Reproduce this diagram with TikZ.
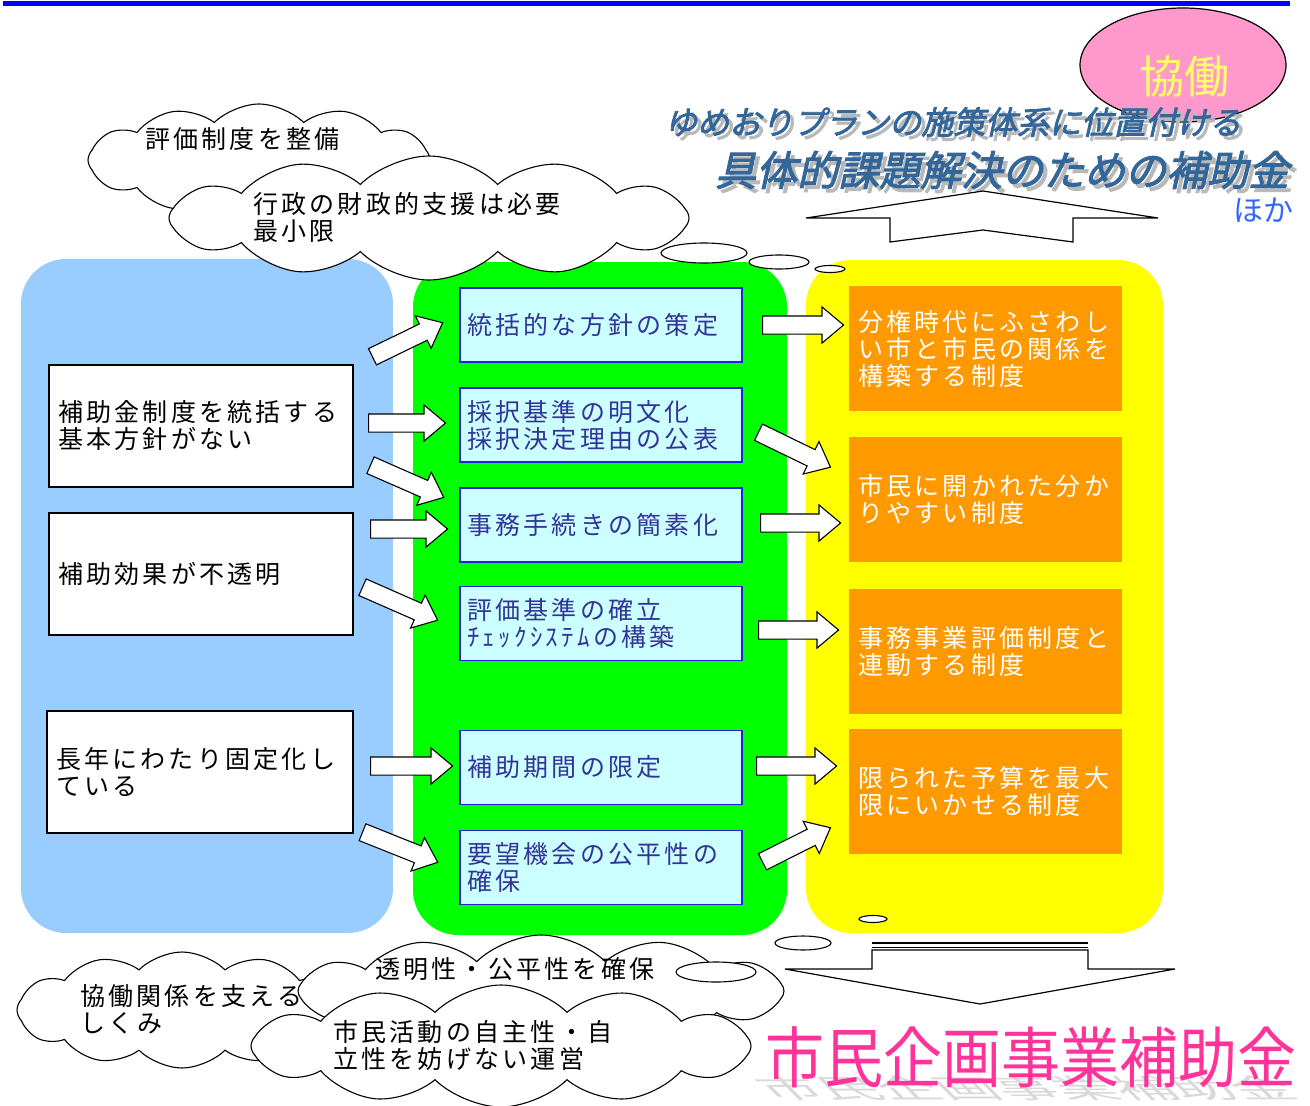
\documentclass[tikz,border=0pt]{standalone}
\usepackage{fontspec}
\setmainfont{Noto Sans CJK JP}
\newfontfamily\jp[LetterSpace=13]{Noto Sans CJK JP}
\newfontfamily\jpt[FakeSlant=0.22,FakeBold=2.5]{Noto Sans CJK JP}
\newfontfamily\jpp{Noto Sans CJK JP}
\usetikzlibrary{shapes.symbols,shapes.arrows,shapes.geometric}
\definecolor{pblue}{HTML}{99CCFF}
\definecolor{pgreen}{HTML}{00FF00}
\definecolor{pyellow}{HTML}{FFFF00}
\definecolor{porange}{HTML}{FF9900}
\definecolor{pcyan}{HTML}{CCFFFF}
\definecolor{cyanedge}{HTML}{2222DD}
\definecolor{cyantext}{HTML}{333399}
\definecolor{titleblue}{HTML}{336699}
\definecolor{hokablue}{HTML}{3366FF}
\definecolor{pinkfill}{HTML}{FF99CC}
\definecolor{kyoyellow}{HTML}{FFFF66}
\definecolor{bigpink}{HTML}{FF3399}
\definecolor{toprule}{HTML}{0000FF}
\tikzset{
  bodyfont/.style={font=\jp\fontsize{25}{27}\selectfont},
  panel/.style={rounded corners=45pt, inner sep=0pt, draw=none},
  leftbox/.style={draw=black, line width=1.2pt, fill=white, bodyfont, align=left,
    inner xsep=9pt, inner ysep=0pt, minimum height=122pt, text width=286pt},
  midbox/.style={draw=cyanedge, line width=1.5pt, fill=pcyan, text=cyantext, bodyfont, align=left,
    inner xsep=7pt, inner ysep=0pt, minimum height=74pt, text width=268pt},
  rightbox/.style={fill=porange, text=white, bodyfont, align=left,
    inner xsep=9pt, inner ysep=0pt, minimum height=125pt, text width=255pt},
  cloudshape/.style={cloud, cloud puffs=12, cloud puff arc=90, cloud ignores aspect,
    draw=black, fill=white, line width=1.1pt, inner sep=0pt},
  cloudtext/.style={bodyfont, anchor=west, inner sep=0pt, align=left},
  bubble/.style={ellipse, draw=black, fill=white, line width=1.1pt, inner sep=0pt},
  barrow/.style={single arrow, draw=black, fill=white, line width=1.1pt, inner sep=0pt,
    inner ysep=8.5pt, single arrow head extend=9pt, single arrow tip angle=80, anchor=tail},
  bigarrow/.style={draw=black, fill=white, line width=1.2pt},
}
\begin{document}
\begin{tikzpicture}[x=1pt,y=-1pt]
\useasboundingbox (0,0) rectangle (1310,1106);
% top rule
\fill[toprule] (3,1) rectangle (1290,6);
% panels
\node[panel, fill=pblue, minimum width=372pt, minimum height=674pt] (pl) at (207,596) {};
\node[panel, fill=pgreen, minimum width=374pt, minimum height=673pt] (pm) at (600,598.5) {};
\node[panel, fill=pyellow, minimum width=357pt, minimum height=673pt] (pr) at (984.5,596.5) {};
% top clouds
\node[cloudshape, minimum width=342pt, minimum height=112pt] (c1) at (259,160) {};
\node[cloudtext] (c1t) at (145,139) {評価制度を整備};
\node[cloudshape, minimum width=520pt, minimum height=124pt] (c2) at (429,218) {};
\node[cloudtext] (c2t) at (253,217.5) {行政の財政的支援は必要\\最小限};
\node[bubble, minimum width=86pt, minimum height=20pt] (tb1) at (704,253) {};
\node[bubble, minimum width=60pt, minimum height=14pt] (tb2) at (779,262) {};
\node[bubble, minimum width=30pt, minimum height=7pt] (tb3) at (830,269) {};
% pink ellipse and title
\node[ellipse, draw=black, fill=pinkfill, line width=1.2pt, minimum width=206pt, minimum height=114pt, inner sep=0pt] (kyo) at (1183,65) {};
\node[text=kyoyellow, font=\jpp\fontsize{45}{45}\selectfont, inner sep=0pt] (kyot) at (1184,76) {協働};
\node[text=gray!55, font=\jpt\fontsize{32}{32}\selectfont, anchor=west, inner sep=0pt] (ti1s) at (669,126) {ゆめおりプランの施策体系に位置付ける};
\node[text=titleblue, font=\jpt\fontsize{32}{32}\selectfont, anchor=west, inner sep=0pt] (ti1) at (665,122) {ゆめおりプランの施策体系に位置付ける};
\node[text=gray!55, font=\jpt\fontsize{41}{41}\selectfont, anchor=west, inner sep=0pt] (ti2s) at (719,174) {具体的課題解決のための補助金};
\node[text=titleblue, font=\jpt\fontsize{41}{41}\selectfont, anchor=west, inner sep=0pt] (ti2) at (715,170) {具体的課題解決のための補助金};
\node[text=hokablue, font=\jpp\fontsize{30}{30}\selectfont, anchor=west, inner sep=0pt] (hoka) at (1233,210) {ほか};
% up arrow
\draw[bigarrow] (983,191) -- (1158,218) -- (1073,218) -- (1073,242) -- (983,230) -- (890,242) -- (890,218) -- (806,218) -- cycle;
% left boxes
\node[leftbox] (l1) at (201,426) {補助金制度を統括する\\基本方針がない};
\node[leftbox] (l2) at (201,574) {補助効果が不透明};
\node[leftbox, text width=288pt] (l3) at (200,772) {長年にわたり固定化し\\ている};
% middle boxes
\node[midbox] (m1) at (601,325) {統括的な方針の策定};
\node[midbox] (m2) at (601,425) {採択基準の明文化\\採択決定理由の公表};
\node[midbox] (m3) at (601,525) {事務手続きの簡素化};
\node[midbox] (m4) at (601,623.5) {評価基準の確立\\ﾁｪｯｸｼｽﾃﾑの構築};
\node[midbox] (m5) at (601,767.5) {補助期間の限定};
\node[midbox] (m6) at (601,867.5) {要望機会の公平性の\\確保};
% right boxes
\node[rightbox] (r1) at (985.5,348.5) {分権時代にふさわし\\い市と市民の関係を\\構築する制度};
\node[rightbox] (r2) at (985.5,499) {市民に開かれた分か\\りやすい制度};
\node[rightbox] (r3) at (985.5,651.5) {事務事業評価制度と\\連動する制度};
\node[rightbox] (r4) at (985.5,791.5) {限られた予算を最大\\限にいかせる制度};
% block arrows left -> middle
\node[barrow, rotate=25.9, minimum height=78pt] (a1) at (372,357) {};
\node[barrow, minimum height=77pt] (a2) at (368,423) {};
\node[barrow, rotate=-23.7, minimum height=80pt] (a3) at (370,465) {};
\node[barrow, minimum height=77pt] (a4) at (370,529) {};
\node[barrow, rotate=-23.7, minimum height=82pt] (a5) at (362,587) {};
\node[barrow, minimum height=82pt] (a6) at (370,766) {};
\node[barrow, rotate=-21.8, minimum height=81pt] (a7) at (362,832) {};
% block arrows middle -> right
\node[barrow, minimum height=81pt] (b1) at (762,325) {};
\node[barrow, rotate=-25.9, minimum height=80pt] (b2) at (758,432) {};
\node[barrow, minimum height=80pt] (b3) at (760,523) {};
\node[barrow, minimum height=80pt] (b4) at (758,630) {};
\node[barrow, minimum height=80pt] (b5) at (756,766) {};
\node[barrow, rotate=26.6, minimum height=76pt] (b6) at (762,862) {};
% bottom bubbles
\node[bubble, minimum width=28pt, minimum height=7pt] (bb1) at (873,919) {};
\node[bubble, minimum width=56pt, minimum height=14pt] (bb2) at (803,943) {};
% bottom clouds
\node[cloudshape, minimum width=330pt, minimum height=116pt] (c3) at (182,1010) {};
\node[cloudshape, minimum width=486pt, minimum height=112pt] (c4) at (541,991) {};
\node[cloudtext] (c3t) at (80,1009) {協働関係を支える\\しくみ};
\node[cloudtext] (c4t) at (375,969) {透明性・公平性を確保};
\node[bubble, minimum width=80pt, minimum height=20pt] (bb3) at (716,972) {};
\node[cloudshape, minimum width=500pt, minimum height=122pt] (c5) at (501,1046) {};
\node[cloudtext] (c5t) at (333,1045.5) {市民活動の自主性・自\\立性を妨げない運営};
% down arrow
\draw[black, line width=2.5pt] (872,943) -- (1088,943);
\draw[black, line width=1pt] (872,947) -- (1088,947);
\draw[bigarrow] (872,950) -- (1088,950) -- (1088,969) -- (1175,969) -- (980,1004) -- (785,969) -- (872,969) -- cycle;
% bottom title
\node[text=gray!30, font=\jpp\fontsize{59}{59}\selectfont, anchor=base west, inner sep=0pt, xslant=-1, yscale=0.45] (pinks) at (770,1098) {市民企画事業補助金};
\node[text=bigpink, font=\jpp\fontsize{59}{59}\selectfont, anchor=west, inner sep=0pt, yscale=1.12] (pinkt) at (765,1057) {市民企画事業補助金};
\end{tikzpicture}
\end{document}
